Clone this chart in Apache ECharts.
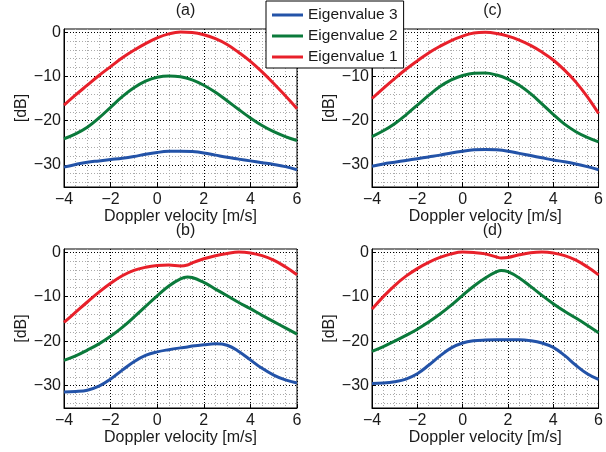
<!DOCTYPE html>
<html>
<head>
<meta charset="utf-8">
<script src="https://cdn.jsdelivr.net/npm/echarts@6/dist/echarts.min.js"></script>
<style>
html,body{margin:0;padding:0;background:#fff;}
#chart{width:606px;height:452px;}
</style>
</head>
<body>
<div id="chart"></div>
<script>
// ---------- data ----------
const panelTitles = ['(a)', '(b)', '(c)', '(d)'];
const seriesNames = ['Eigenvalue 1', 'Eigenvalue 2', 'Eigenvalue 3'];
const legendOrder = ['Eigenvalue 3', 'Eigenvalue 2', 'Eigenvalue 1'];
const xTitle = 'Doppler velocity [m/s]';
const yTitle = '[dB]';
const yMajorTicks = [0, -10, -20, -30];
const yMinorTicks = [-2, -4, -6, -8, -12, -14, -16, -18, -22, -24, -26, -28, -32, -34];

// panel (a)
const aX    = [-4, -3.5, -3, -2.5, -2, -1.5, -1, -0.5, 0, 0.5, 1, 1.5, 2, 2.5, 3, 3.5, 4, 4.5, 5, 5.5, 6];
const aEig1 = [-16.5, -14.2, -12.0, -9.8, -7.8, -5.8, -4.1, -2.6, -1.3, -0.4, 0.0, -0.1, -0.6, -1.5, -2.8, -4.6, -6.6, -9.0, -11.6, -14.4, -17.3];
const aEig2 = [-24.1, -23.0, -21.5, -19.4, -17.0, -14.6, -12.6, -11.1, -10.2, -9.9, -10.1, -10.8, -12.0, -13.6, -15.5, -17.5, -19.4, -21.1, -22.5, -23.6, -24.5];
const aEig3 = [-30.5, -29.9, -29.4, -29.1, -28.8, -28.5, -28.1, -27.6, -27.2, -26.95, -26.9, -27.0, -27.3, -27.8, -28.3, -28.7, -29.1, -29.5, -29.9, -30.4, -31.1];

// panel (b)
const bX    = [-4, -3.5, -3, -2.5, -2, -1.5, -1, -0.5, 0, 0.5, 1, 1.3, 1.5, 2, 2.5, 3, 3.5, 4, 4.5, 5, 5.5, 6];
const bEig1 = [-15.8, -13.5, -11.2, -9.0, -7.0, -5.3, -4.1, -3.4, -3.0, -2.9, -3.1, -2.9, -2.4, -1.5, -0.8, -0.3, 0.0, -0.2, -0.8, -1.8, -3.3, -5.1];
const bEig2 = [-24.3, -23.3, -22.0, -20.6, -18.9, -16.9, -14.6, -12.2, -9.8, -7.6, -6.0, -5.6, -5.7, -6.8, -8.3, -9.8, -11.3, -12.7, -14.2, -15.6, -17.0, -18.4];
const bEig3 = [-31.4, -31.3, -31.0, -30.1, -28.5, -26.5, -24.6, -23.2, -22.4, -21.9, -21.5, -21.3, -21.1, -20.8, -20.6, -20.9, -22.3, -24.2, -26.1, -27.6, -28.7, -29.4];

// panel (c)
const cX    = [-4, -3.5, -3, -2.5, -2, -1.5, -1, -0.5, 0, 0.5, 1, 1.5, 2, 2.5, 3, 3.5, 4, 4.5, 5, 5.5, 6];
const cEig1 = [-15.0, -12.7, -10.5, -8.4, -6.5, -4.7, -3.2, -1.9, -0.9, -0.2, -0.05, -0.3, -0.9, -1.8, -3.0, -4.5, -6.3, -8.6, -11.3, -14.6, -18.4];
const cEig2 = [-23.6, -22.3, -20.7, -18.7, -16.5, -14.3, -12.3, -10.8, -9.8, -9.3, -9.25, -9.7, -10.6, -12.0, -13.9, -16.2, -18.6, -20.8, -22.5, -23.8, -24.8];
const cEig3 = [-30.3, -29.8, -29.4, -29.0, -28.6, -28.2, -27.8, -27.3, -26.9, -26.6, -26.5, -26.6, -26.9, -27.4, -27.9, -28.4, -28.9, -29.3, -29.8, -30.4, -31.1];

// panel (d)
const dX    = [-4, -3.5, -3, -2.5, -2, -1.5, -1, -0.5, 0, 0.5, 1, 1.5, 1.7, 2, 2.5, 3, 3.5, 4, 4.5, 5, 5.5, 6];
const dEig1 = [-12.8, -10.0, -7.5, -5.4, -3.7, -2.3, -1.2, -0.4, 0.0, -0.1, -0.4, -1.1, -1.3, -1.2, -0.6, -0.15, 0.0, -0.2, -0.8, -1.8, -3.3, -5.1];
const dEig2 = [-22.3, -21.2, -20.0, -18.7, -17.3, -15.7, -13.9, -11.9, -9.7, -7.6, -5.8, -4.4, -4.1, -4.4, -5.8, -7.7, -9.7, -11.6, -13.3, -14.8, -16.4, -18.1];
const dEig3 = [-29.5, -29.4, -29.1, -28.5, -27.3, -25.4, -23.3, -21.5, -20.4, -19.9, -19.75, -19.7, -19.7, -19.7, -19.7, -19.9, -20.4, -21.4, -23.2, -25.4, -27.3, -28.6];

// ---------- build ----------
const FONT = "'Liberation Sans', Arial, sans-serif";
const colors = ['#e8202a', '#0b7a3b', '#2353a8'];
const panels = [
  {x: aX, ys: [aEig1, aEig2, aEig3]},
  {x: bX, ys: [bEig1, bEig2, bEig3]},
  {x: cX, ys: [cEig1, cEig2, cEig3]},
  {x: dX, ys: [dEig1, dEig2, dEig3]}
];
const layouts = [
  {left: 64, top: 29, width: 233, height: 158},
  {left: 64, top: 249, width: 233, height: 159},
  {left: 372, top: 29, width: 231, height: 158},
  {left: 372, top: 249, width: 231, height: 159}
];
const fmt = v => (v < 0 ? '\u2212' + Math.abs(v) : String(v));
const TXT = '#1a1a1a';

const grid = [], xAxis = [], yAxis = [], series = [], title = [];
layouts.forEach((L, i) => {
  grid.push(Object.assign({show: true, borderColor: '#000', borderWidth: 1, backgroundColor: '#fff', containLabel: false}, L));
  title.push({
    text: panelTitles[i], left: L.left + L.width / 2, top: L.top - 31, textAlign: 'center',
    textStyle: {fontFamily: FONT, fontSize: 16, fontWeight: 'normal', color: TXT}
  });
  xAxis.push({
    type: 'value', gridIndex: i, min: -4, max: 6, interval: 2,
    name: xTitle, nameLocation: 'middle', nameGap: 21,
    nameTextStyle: {fontFamily: FONT, fontSize: 16, color: TXT},
    axisLine: {show: true, onZero: false, lineStyle: {color: '#000', width: 1}},
    axisTick: {show: true, inside: true, length: 4, lineStyle: {color: '#000'}},
    axisLabel: {fontFamily: FONT, fontSize: 16, color: TXT, margin: 5, formatter: fmt},
    splitLine: {show: true, lineStyle: {color: '#000', type: [1, 2], width: 1}},
    minorTick: {show: false, splitNumber: 4},
    minorSplitLine: {show: true, lineStyle: {color: '#aaa', type: [1, 2], width: 1}}
  });
  yAxis.push({
    type: 'value', gridIndex: i, min: -35, max: 0.7,
    name: yTitle, nameLocation: 'middle', nameGap: 34, nameRotate: 90,
    nameTextStyle: {fontFamily: FONT, fontSize: 16, color: TXT},
    axisLine: {show: true, onZero: false, lineStyle: {color: '#000', width: 1}},
    axisTick: {show: true, inside: true, length: 4, lineStyle: {color: '#000'}, customValues: yMajorTicks},
    axisLabel: {fontFamily: FONT, fontSize: 16, color: TXT, margin: 3, formatter: fmt, customValues: yMajorTicks},
    splitLine: {show: true, lineStyle: {color: '#000', type: [1, 2], width: 1}}
  });
});
// minor horizontal grid axes
layouts.forEach((L, i) => {
  yAxis.push({
    type: 'value', gridIndex: i, min: -35, max: 0.7, position: 'left',
    axisLine: {show: false, onZero: false}, axisLabel: {show: false},
    axisTick: {show: false, customValues: yMinorTicks},
    splitLine: {show: true, lineStyle: {color: '#aaa', type: [1, 2], width: 1}}
  });
});
panels.forEach((P, i) => {
  P.ys.forEach((ys, k) => {
    series.push({
      type: 'line', name: seriesNames[k], xAxisIndex: i, yAxisIndex: i,
      data: P.x.map((x, j) => [x, ys[j]]),
      smooth: 0.4, showSymbol: false, symbol: 'none', z: 5,
      lineStyle: {color: colors[k], width: 3}, itemStyle: {color: colors[k]},
      animation: false
    });
  });
});

const chart = echarts.init(document.getElementById('chart'), null, {renderer: 'canvas'});
chart.setOption({
  animation: false,
  backgroundColor: '#fff',
  title, grid, xAxis, yAxis, series,
  legend: {
    data: legendOrder, orient: 'vertical', left: 266, top: 1,
    padding: [6, 6, 3, 6], itemGap: 5, itemWidth: 31, itemHeight: 3, icon: 'rect',
    borderColor: '#000', borderWidth: 1, backgroundColor: '#fff', z: 20,
    textStyle: {fontFamily: FONT, fontSize: 15.5, color: TXT}
  }
});
</script>
</body>
</html>
